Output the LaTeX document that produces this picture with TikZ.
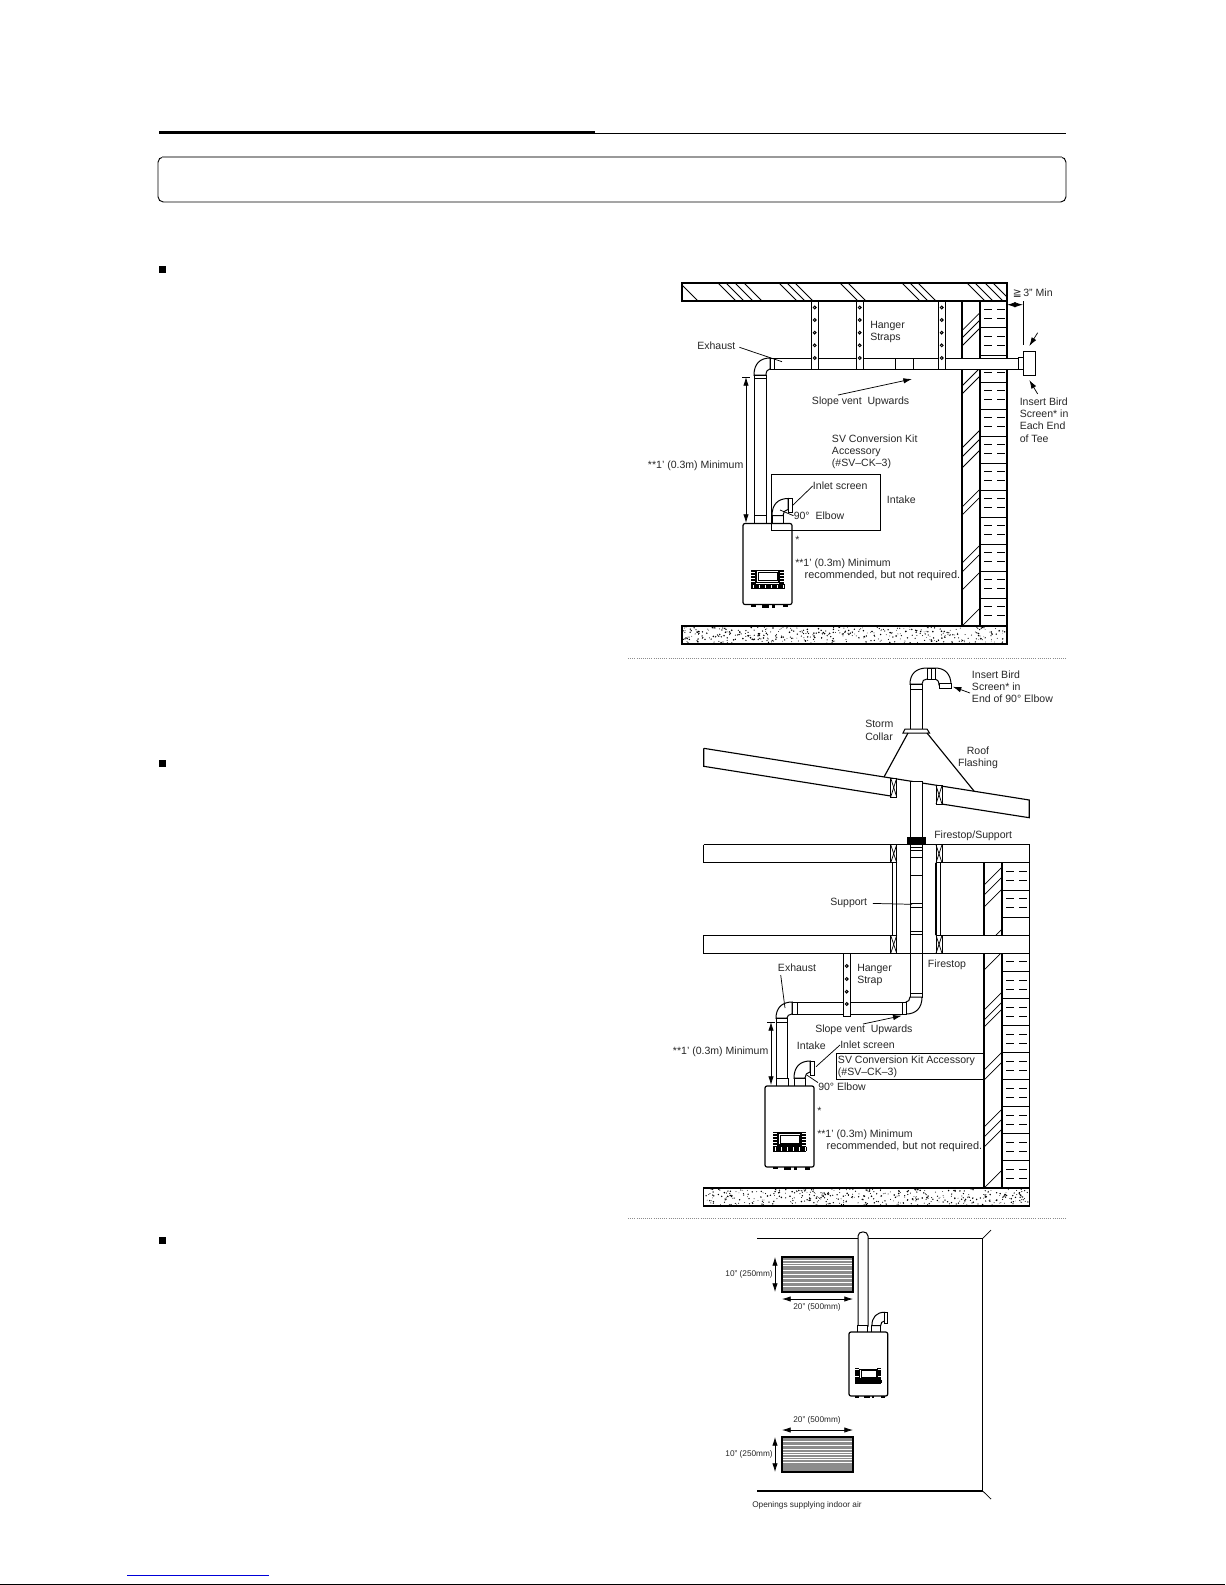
\documentclass[tikz,border=0pt]{standalone}
\usepackage{fontspec}
\setmainfont{Liberation Sans}
\newfontfamily\symfont{DejaVu Sans}
\usepackage{tikz}
\usetikzlibrary{positioning}
\usetikzlibrary{arrows.meta}

\tikzset{
  >={Latex[length=6.5pt,width=4pt]},
  lbl/.style={anchor=west, inner sep=0pt, align=left, text=black!85, font=\fontsize{7.9}{9.15}\selectfont},
  lblsmall/.style={anchor=west, inner sep=0pt, text=black!85, font=\fontsize{6.2}{7}\selectfont},
  wallline/.style={line width=0.85pt},
  hatchline/.style={line width=0.55pt},
  pipe/.style={line width=0.75pt, fill=white},
  leader/.style={line width=0.55pt},
  heater/.pic={
    % Stubs and intake elbow
    \draw[pipe] (11,-8) rectangle (23,0);
    \draw[pipe] (29,-8) rectangle (40,0);
    \draw[pipe] (29,-8) .. controls (29,-19) and (35,-25) .. (45,-25) -- (45,-14) .. controls (42,-14) and (40,-11) .. (40,-8) -- cycle;
    \draw[pipe] (45,-25) rectangle (49,-11);
    % Body
    \draw[line width=0.9pt, fill=white, rounded corners=1.5pt] (0,0) rectangle (49,81);
    % Feet
    \fill (8,81) rectangle (13,83);
    \fill (19,81) rectangle (26,84);
    \fill (29,81) rectangle (32,84);
    \fill (40,81) rectangle (45,83.5);
    % Panel
    \foreach \py in {46.5,48,...,60}{
      \draw[line width=0.55pt] (8,\py) -- (13,\py);
      \draw[line width=0.55pt] (36,\py) -- (41,\py);
    }
    \draw[line width=0.8pt, fill=white] (13,47) rectangle (36,59);
    \draw[line width=0.4pt] (15,49) rectangle (34,57);
    \foreach \px in {8.5,9.7,...,41}
      \draw[line width=0.55pt] (\px,60.5) -- (\px,65);
    \draw[line width=0.55pt] (8,60.5) -- (41,60.5);
    \draw[line width=0.55pt] (8,65) -- (41,65);
  }
}

\newcommand{\xblock}[3]{% blocking with a cross
  \draw[hatchline, fill=white] (#1,#2) rectangle ({#1+6},#3);
  \draw[hatchline] (#1,#2) -- ({#1+6},#3);
  \draw[hatchline] ({#1+6},#2) -- (#1,#3);
}

\begin{document}
\begin{tikzpicture}[x=0.75pt,y=-0.75pt]
\useasboundingbox (0,0) rectangle (1225,1585);

% Page furniture
\draw[line width=2.2pt] (159,132.3) -- (595,132.3);
\draw[line width=0.75pt] (595,133) -- (1066,133);
\draw[line width=0.7pt, rounded corners=4pt] (158,157) rectangle (1066,202);
\draw[line width=1pt, black!40] (162,157) -- (1062,157);
\foreach \by in {266,759.5,1236.5}
  \fill (159,\by) rectangle (166,{\by+7});
\draw[line width=0.6pt, densely dotted, black!45] (628,658) -- (1066,658);
\draw[line width=0.6pt, densely dotted, black!45] (628,1218) -- (1066,1218);
\draw[line width=0.75pt, blue!85!black] (127,1575.5) -- (269,1575.5);
\draw[line width=0.9pt] (0,1584.4) -- (1225,1584.4);

% ---------- Horizontal vent ----------
% Ceiling
\draw[wallline] (682,283) rectangle (1007,301);
\begin{scope}
  \clip (682,283) rectangle (1007,301);
  \foreach \hx in {680,718,726,735,744,779,787,795,840,848,902,910,918,967,975,985,993}
    \draw[hatchline] (\hx,283) -- ({\hx+18},301);
\end{scope}
% Floor
\draw[wallline] (682,626) rectangle (1007,644);
\pgfmathsetseed{11}
\foreach \n in {1,...,420}
  \fill ({683+323*rnd},{627+16*rnd}) circle ({0.35+0.55*rnd});
% Wall
\draw[wallline] (962,301) -- (962,626);
\draw[wallline] (980,301) -- (980,626);
\draw[wallline] (1007,301) -- (1007,626);
\begin{scope}
  \clip (962,301) rectangle (980,626);
  \foreach \wy in {330.7,338,346,386,394,448,457,468,507,515,563,572,590,626}
    \draw[hatchline] (962,\wy) -- (980,{\wy-18});
\end{scope}
\foreach \by in {327.5,355,382.5,409.5,436.5,463.5,490.5,517.5,544.5,571.5,598.5}
  \draw[line width=0.7pt] (980,\by) -- (1007,\by);
\foreach \by in {301,328,355,382,409,436,463,490,517,544,571,598}
  \foreach \dy in {8.5,17.5}{
    \draw[hatchline] (984,{\by+\dy}) -- (992,{\by+\dy});
    \draw[hatchline] (997,{\by+\dy}) -- (1005,{\by+\dy});
  }
% Pipe run
\draw[pipe] (774,358) rectangle (1018,369);
\draw[pipe] (754,375) .. controls (754,364) and (760,358) .. (770,358) -- (770,369) .. controls (768,369) and (766,371) .. (766,375) -- cycle;
\draw[pipe] (770,358) rectangle (774,369);
\draw[pipe] (754,375) rectangle (766,378);
\draw[pipe] (754,378) rectangle (766,516);
\draw[pipe] (895,358) rectangle (913,369);
\draw[pipe] (1018,357) rectangle (1023,369);
\draw[pipe] (1023,351) rectangle (1035,375);
% Hanger straps
\foreach \sx in {811,856,938}{
  \draw[pipe] (\sx,301) rectangle ({\sx+7.5},369);
  \foreach \hy in {307.5,320,332.7,345.3,358}
    \filldraw[fill=white, line width=0.7pt] ({\sx+3.7},\hy) circle (1.4);
}
% Heater
\pic at (743,523.5) {heater};
\draw[leader] (771,474) rectangle (880,530);
% Labels
\node[lbl] (mina) at (1012.5,293) {{\symfont ≧}\,3" Min};
\node[lbl] (birda) at (1019.5,420) {Insert Bird\\Screen* in\\Each End\\of Tee};
\node[lbl] (strapa) at (870,331.7) {Hanger\\Straps};
\node[lbl] (exha) at (697,346) {Exhaust};
\node[lbl] (slopea) at (811.7,402) {Slope vent\ \ Upwards};
\node[lbl] (kita) at (831.7,452) {SV Conversion Kit\\Accessory\\(\#SV--CK--3)};
\node[lbl] (reca) at (647.7,465.7) {**1' (0.3m) Minimum};
\node[lbl] (inleta) at (812.7,486) {Inlet screen};
\node[lbl] (intakea) at (886.7,500) {Intake};
\node[lbl] (elbowa) at (793.5,515.7) {90°\ \ Elbow};
\node[lbl] (stara) at (795,540) {*};
\node[lbl] (notea) at (795,570) {**1' (0.3m) Minimum\\\hspace*{7pt}{\fontsize{8.2}{9.15}\selectfont recommended, but not required.}};
% Leaders
\coordinate (exhtipa) at (782,361.7);
\draw[leader, shorten <=3pt] (exha.east) -- (exhtipa);
\coordinate (slopetaila) at (838,395);
\coordinate (slopetipa) at (912,379);
\draw[leader, ->] (slopetaila) -- (slopetipa);
\coordinate (dimtopa) at (746,377);
\coordinate (dimbota) at (746,523);
\draw[leader, <->] (dimtopa) -- (dimbota);
\draw[leader] (742,377) -- (750,377);
\coordinate (gapla) at (1007,304.7);
\coordinate (gapra) at (1023,304.7);
\draw[leader, <->] (gapla) -- (gapra);
\draw[leader] (1023,301) -- (1023,345);
\coordinate (captail) at (1037.7,332.7);
\coordinate (captip) at (1029.3,346);
\draw[leader, ->] (captail) -- (captip);
\coordinate (bottail) at (1037.7,394);
\coordinate (bottip) at (1029.3,380);
\draw[leader, ->] (bottail) -- (bottip);
\coordinate (inletfoota) at (793,505);
\draw[leader] (inleta.west) -- (inletfoota);
\coordinate (elbowfoota) at (780,510);
\draw[leader] (elbowa.west) -- (elbowfoota);

% ---------- Vertical vent ----------
% Roof
\draw[wallline] (703.7,748.3) -- (1029.3,800) -- (1029.3,817.7) -- (941.7,804);
\draw[wallline] (703.7,748.3) -- (703.7,766.3) -- (890.7,796);
% Pipe below roof
\draw[pipe] (910,781) rectangle (922,993);
\draw[pipe] (910,847) rectangle (922.5,850);
\draw[pipe] (910,857) rectangle (922.5,875);
\draw[pipe] (910,903) rectangle (922.5,907);
\draw[pipe] (910,931) rectangle (922.5,934);
% Floors
\draw[wallline] (703.7,844.7) -- (1029.3,844.7) -- (1029.3,862.7) -- (941.7,862.7);
\draw[wallline] (703.7,844.7) -- (703.7,862.7) -- (890.7,862.7);
\draw[wallline] (890.7,935.3) -- (703.7,935.3) -- (703.7,953.3) -- (1029.3,953.3) -- (1029.3,935.3) -- (941.7,935.3);
\draw[wallline] (1029.3,862.7) -- (1029.3,935.3);
\foreach \sx in {892.5,896.7,936,940.5}
  \draw[wallline] (\sx,862.7) -- (\sx,935.3);
\xblock{890.7}{778}{797}
\xblock{936}{785.5}{804}
\xblock{890.7}{844.7}{862.7}
\xblock{936}{844.7}{862.7}
\xblock{890.7}{935.3}{953.3}
\xblock{936}{935.3}{953.3}
\fill (906.7,837) rectangle (926,845);
% Upper and lower wall
\draw[wallline] (984,862.7) -- (984,935.3);
\draw[wallline] (1002,862.7) -- (1002,935.3);
\draw[wallline] (984,953.3) -- (984,1188);
\draw[wallline] (1002,953.3) -- (1002,1188);
\draw[wallline] (1029.3,953.3) -- (1029.3,1188);
\begin{scope}
  \clip (984,862.7) rectangle (1002,935.3);
  \foreach \wy in {885,895,907,947}
    \draw[hatchline] (984,\wy) -- (1002,{\wy-18});
\end{scope}
\begin{scope}
  \clip (984,953.3) rectangle (1002,1188);
  \foreach \wy in {970,1010,1020,1027,1070,1080,1127,1137,1147,1188}
    \draw[hatchline] (984,\wy) -- (1002,{\wy-18});
\end{scope}
\foreach \by in {890,917,971.7,998.7,1025.7,1052.7,1079.7,1106.7,1133.7,1160.7}
  \draw[line width=0.7pt] (1002,\by) -- (1029.3,\by);
\foreach \by in {863,890,972,999,1026,1053,1080,1107,1134,1161}
  \foreach \dy in {8.5,17.5}{
    \draw[hatchline] (1006,{\by+\dy}) -- (1014,{\by+\dy});
    \draw[hatchline] (1019,{\by+\dy}) -- (1027,{\by+\dy});
  }
\draw[hatchline] (1006,961.7) -- (1014,961.7);
\draw[hatchline] (1019,961.7) -- (1027,961.7);
% Floor
\draw[wallline] (703.7,1188) rectangle (1029.3,1206);
\pgfmathsetseed{23}
\foreach \n in {1,...,420}
  \fill ({705+323*rnd},{1189+16*rnd}) circle ({0.35+0.55*rnd});
% Termination and flashing
\draw[pipe] (910,689) rectangle (922,729);
\draw[pipe] (910,684) .. controls (910,674) and (916,668) .. (927,668) -- (935,668) .. controls (945,668) and (951,674) .. (951,685) -- (939,685) .. controls (939,681) and (937,679) .. (935,679) -- (927,679) .. controls (924,679) and (922,681) .. (922,684) -- cycle;
\draw[pipe] (927,668) rectangle (931,679);
\draw[pipe] (931,668) rectangle (935,679);
\draw[pipe] (939,683) rectangle (951,688.5);
\draw[pipe] (910,684) rectangle (922,689);
\draw[pipe] (905,729) -- (927,729) -- (929.5,733) -- (903,733) -- cycle;
\draw[wallline] (908,733) -- (884,777);
\draw[wallline] (927,733) -- (974,791);
% Offset run
\draw[pipe] (910,993) rectangle (922,997);
\draw[pipe] (922,997) .. controls (922,1008) and (916,1014) .. (906,1014) -- (906,1002) .. controls (908,1002) and (910,1000) .. (910,997) -- cycle;
\draw[pipe] (797,1002) rectangle (902,1014);
\draw[pipe] (902,1002) rectangle (906,1014);
\draw[pipe] (792,1002) rectangle (797,1014);
\draw[pipe] (776,1018) .. controls (776,1008) and (782,1002) .. (792,1002) -- (792,1014) .. controls (789,1014) and (787,1016) .. (787,1018) -- cycle;
\draw[pipe] (776,1018) rectangle (787,1022);
\draw[pipe] (776,1022) rectangle (787,1078);
% Hanger strap
\draw[pipe] (843,953.3) rectangle (850.5,1016);
\foreach \hy in {966,979,991.7,1004}
  \filldraw[fill=white, line width=0.7pt] (846.7,\hy) circle (1.4);
% Heater
\pic at (765,1086) {heater};
\draw[line width=0.7pt, fill=white] (836,1053) rectangle (983,1079);
% Labels
\node[lbl] (birdb) at (971.7,686.8) {Insert Bird\\Screen* in\\End of 90° Elbow};
\node[lbl] (collar) at (865,730.3) {Storm\\Collar};
\node[lbl, align=center, anchor=center] (flash) at (978,757.5) {Roof\\Flashing};
\node[lbl] (stopa) at (934,835.7) {Firestop/Support};
\node[lbl] (support) at (830,903.3) {Support};
\node[lbl] (exhb) at (777.7,967.3) {Exhaust};
\node[lbl] (strapb) at (857,975) {Hanger\\Strap};
\node[lbl] (stopb) at (927.7,964.7) {Firestop};
\node[lbl] (slopeb) at (815,1029.7) {Slope vent\ \ Upwards};
\node[lbl] (recb) at (672.7,1052) {**1' (0.3m) Minimum};
\node[lbl] (intakeb) at (796.7,1045.7) {Intake};
\node[lbl] (inletb) at (840,1045) {Inlet screen};
\node[lbl] (kitb) at (837.7,1066.7) {SV Conversion Kit Accessory\\(\#SV--CK--3)};
\node[lbl] (elbowb) at (818,1086.7) {90° Elbow};
\node[lbl] (starb) at (817,1111) {*};
\node[lbl] (noteb) at (817,1141) {**1' (0.3m) Minimum\\\hspace*{7pt}{\fontsize{8.2}{9.15}\selectfont recommended, but not required.}};
% Leaders
\coordinate (birdtip) at (952.7,686.7);
\coordinate (birdtail) at (970,693);
\draw[leader, ->] (birdtail) -- (birdtip);
\coordinate (supporttip) at (912,904.3);
\draw[leader, shorten <=4pt] (support.east) -- (supporttip);
\coordinate (exhtailb) at (780.7,975);
\coordinate (exhtipb) at (785,1008);
\draw[leader] (exhtailb) -- (exhtipb);
\coordinate (slopetailb) at (863,1024);
\coordinate (slopetipb) at (901.7,1015.7);
\draw[leader, ->] (slopetailb) -- (slopetipb);
\coordinate (dimtopb) at (771,1022);
\coordinate (dimbotb) at (771,1085);
\draw[leader, <->] (dimtopb) -- (dimbotb);
\draw[leader] (767,1022) -- (775,1022);
\coordinate (inletfootb) at (816,1066.7);
\draw[leader] (inletb.west) -- (inletfootb);
\coordinate (elbowfootb) at (806.7,1075);
\draw[leader] (elbowb.north west) -- (elbowfootb);

% ---------- Room with openings ----------
\draw[wallline] (757,1238.3) -- (982.7,1238.3);
\draw[wallline] (757,1491) -- (982.7,1491);
\draw[wallline] (982.7,1238.3) -- (982.7,1491);
\draw[leader] (982.7,1238.3) -- (991,1230);
\draw[leader] (982.7,1491) -- (991,1499);
% Grilles
\draw[line width=0.9pt, fill=black!45] (782,1257) rectangle (853,1292);
\foreach \gy in {1260.5,1263,1265.5,1270,1274,1278,1282,1286}
  \draw[white, line width=0.5pt] (783,\gy) -- (852,\gy);
\draw[line width=0.9pt, fill=black!45] (782,1437) rectangle (853,1472);
\foreach \gy in {1441,1445,1449,1452,1454.5,1457,1459.5,1462}
  \draw[white, line width=0.5pt] (783,\gy) -- (852,\gy);
% Vent and heater
\draw[pipe] (858,1326) -- (858,1236) .. controls (858,1230.5) and (868,1230.5) .. (868,1236) -- (868,1326) -- cycle;
\pic[scale=0.79] at (849,1332) {heater};
% Labels
\node[lblsmall, anchor=east] (tallc) at (773,1274) {10" (250mm)};
\node[lblsmall, anchor=center] (widec) at (817,1307) {20" (500mm)};
\node[lblsmall, anchor=center] (wided) at (817,1420) {20" (500mm)};
\node[lblsmall, anchor=east] (talld) at (773,1454) {10" (250mm)};
\node[lblsmall] (openings) at (752,1505) {Openings supplying indoor air};
% Dimensions
\coordinate (tallctop) at (775,1257);
\coordinate (tallcbot) at (775,1292);
\draw[leader, <->] (tallctop) -- (tallcbot);
\coordinate (widecl) at (782,1299);
\coordinate (widecr) at (853,1299);
\draw[leader, <->] (widecl) -- (widecr);
\coordinate (talldtop) at (775,1437);
\coordinate (talldbot) at (775,1472);
\draw[leader, <->] (talldtop) -- (talldbot);
\coordinate (widedl) at (782,1430);
\coordinate (widedr) at (853,1430);
\draw[leader, <->] (widedl) -- (widedr);
\end{tikzpicture}
\end{document}
